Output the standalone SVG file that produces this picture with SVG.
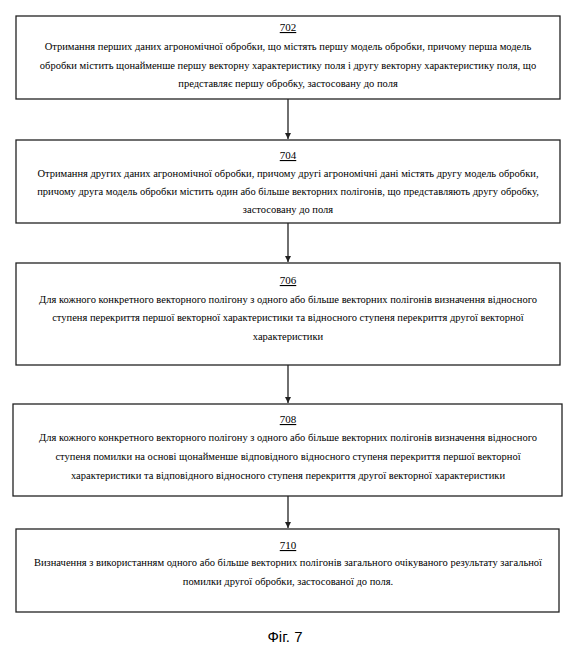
<svg xmlns="http://www.w3.org/2000/svg" width="576" height="653" viewBox="0 0 576 653">
<defs>
<style>
.box{fill:#fff;stroke:#222;stroke-width:1.3}
.t{font-family:"Liberation Serif","Times New Roman",serif;font-size:10.5px;fill:#000;text-anchor:middle}
.n{font-family:"Liberation Serif","Times New Roman",serif;font-size:11px;fill:#000;text-anchor:middle;text-decoration:underline}
.c{stroke:#222;stroke-width:1.3;fill:none}
.cap{font-family:"Liberation Sans",Arial,sans-serif;font-size:15px;fill:#000;text-anchor:middle}
</style>
<marker id="ah" markerWidth="8" markerHeight="8" refX="6" refY="4" orient="auto" markerUnits="userSpaceOnUse">
<path d="M0,1 L6,4 L0,7 Z" fill="#222"/>
</marker>
</defs>
<rect width="576" height="653" fill="#fff"/>
<g id="connectors">
<line class="c" x1="288" y1="99" x2="288" y2="139" marker-end="url(#ah)"/>
<line class="c" x1="288" y1="223" x2="288" y2="262" marker-end="url(#ah)"/>
<line class="c" x1="288" y1="365" x2="288" y2="403" marker-end="url(#ah)"/>
<line class="c" x1="288" y1="496" x2="288" y2="528" marker-end="url(#ah)"/>
</g>
<g id="n702">
<rect class="box" x="16" y="16" width="544" height="83"/>
<text class="n" x="288" y="31">702</text>
<text class="t" x="288" y="50">Отримання перших даних агрономічної обробки, що містять першу модель обробки, причому перша модель</text>
<text class="t" x="288" y="69">обробки містить щонайменше першу векторну характеристику поля і другу векторну характеристику поля, що</text>
<text class="t" x="288" y="87">представляє першу обробку, застосовану до поля</text>
</g>
<g id="n704">
<rect class="box" x="16" y="140" width="544" height="83"/>
<text class="n" x="288" y="159">704</text>
<text class="t" x="288" y="177">Отримання других даних агрономічної обробки, причому другі агрономічні дані містять другу модель обробки,</text>
<text class="t" x="288" y="195">причому друга модель обробки містить один або більше векторних полігонів, що представляють другу обробку,</text>
<text class="t" x="288" y="213">застосовану до поля</text>
</g>
<g id="n706">
<rect class="box" x="16" y="263" width="544" height="102"/>
<text class="n" x="288" y="284">706</text>
<text class="t" x="288" y="303">Для кожного конкретного векторного полігону з одного або більше векторних полігонів визначення відносного</text>
<text class="t" x="288" y="321">ступеня перекриття першої векторної характеристики та відносного ступеня перекриття другої векторної</text>
<text class="t" x="288" y="340">характеристики</text>
</g>
<g id="n708">
<rect class="box" x="13" y="404" width="549" height="92"/>
<text class="n" x="288" y="423">708</text>
<text class="t" x="288" y="441">Для кожного конкретного векторного полігону з одного або більше векторних полігонів визначення відносного</text>
<text class="t" x="288" y="460">ступеня помилки на основі щонайменше відповідного відносного ступеня перекриття першої векторної</text>
<text class="t" x="288" y="479">характеристики та відповідного відносного ступеня перекриття другої векторної характеристики</text>
</g>
<g id="n710">
<rect class="box" x="16" y="529" width="543" height="83"/>
<text class="n" x="288" y="549">710</text>
<text class="t" x="288" y="566">Визначення з використанням одного або більше векторних полігонів загального очікуваного результату загальної</text>
<text class="t" x="288" y="585">помилки другої обробки, застосованої до поля.</text>
</g>
<text class="cap" x="285" y="642">Фіг. 7</text>
</svg>
